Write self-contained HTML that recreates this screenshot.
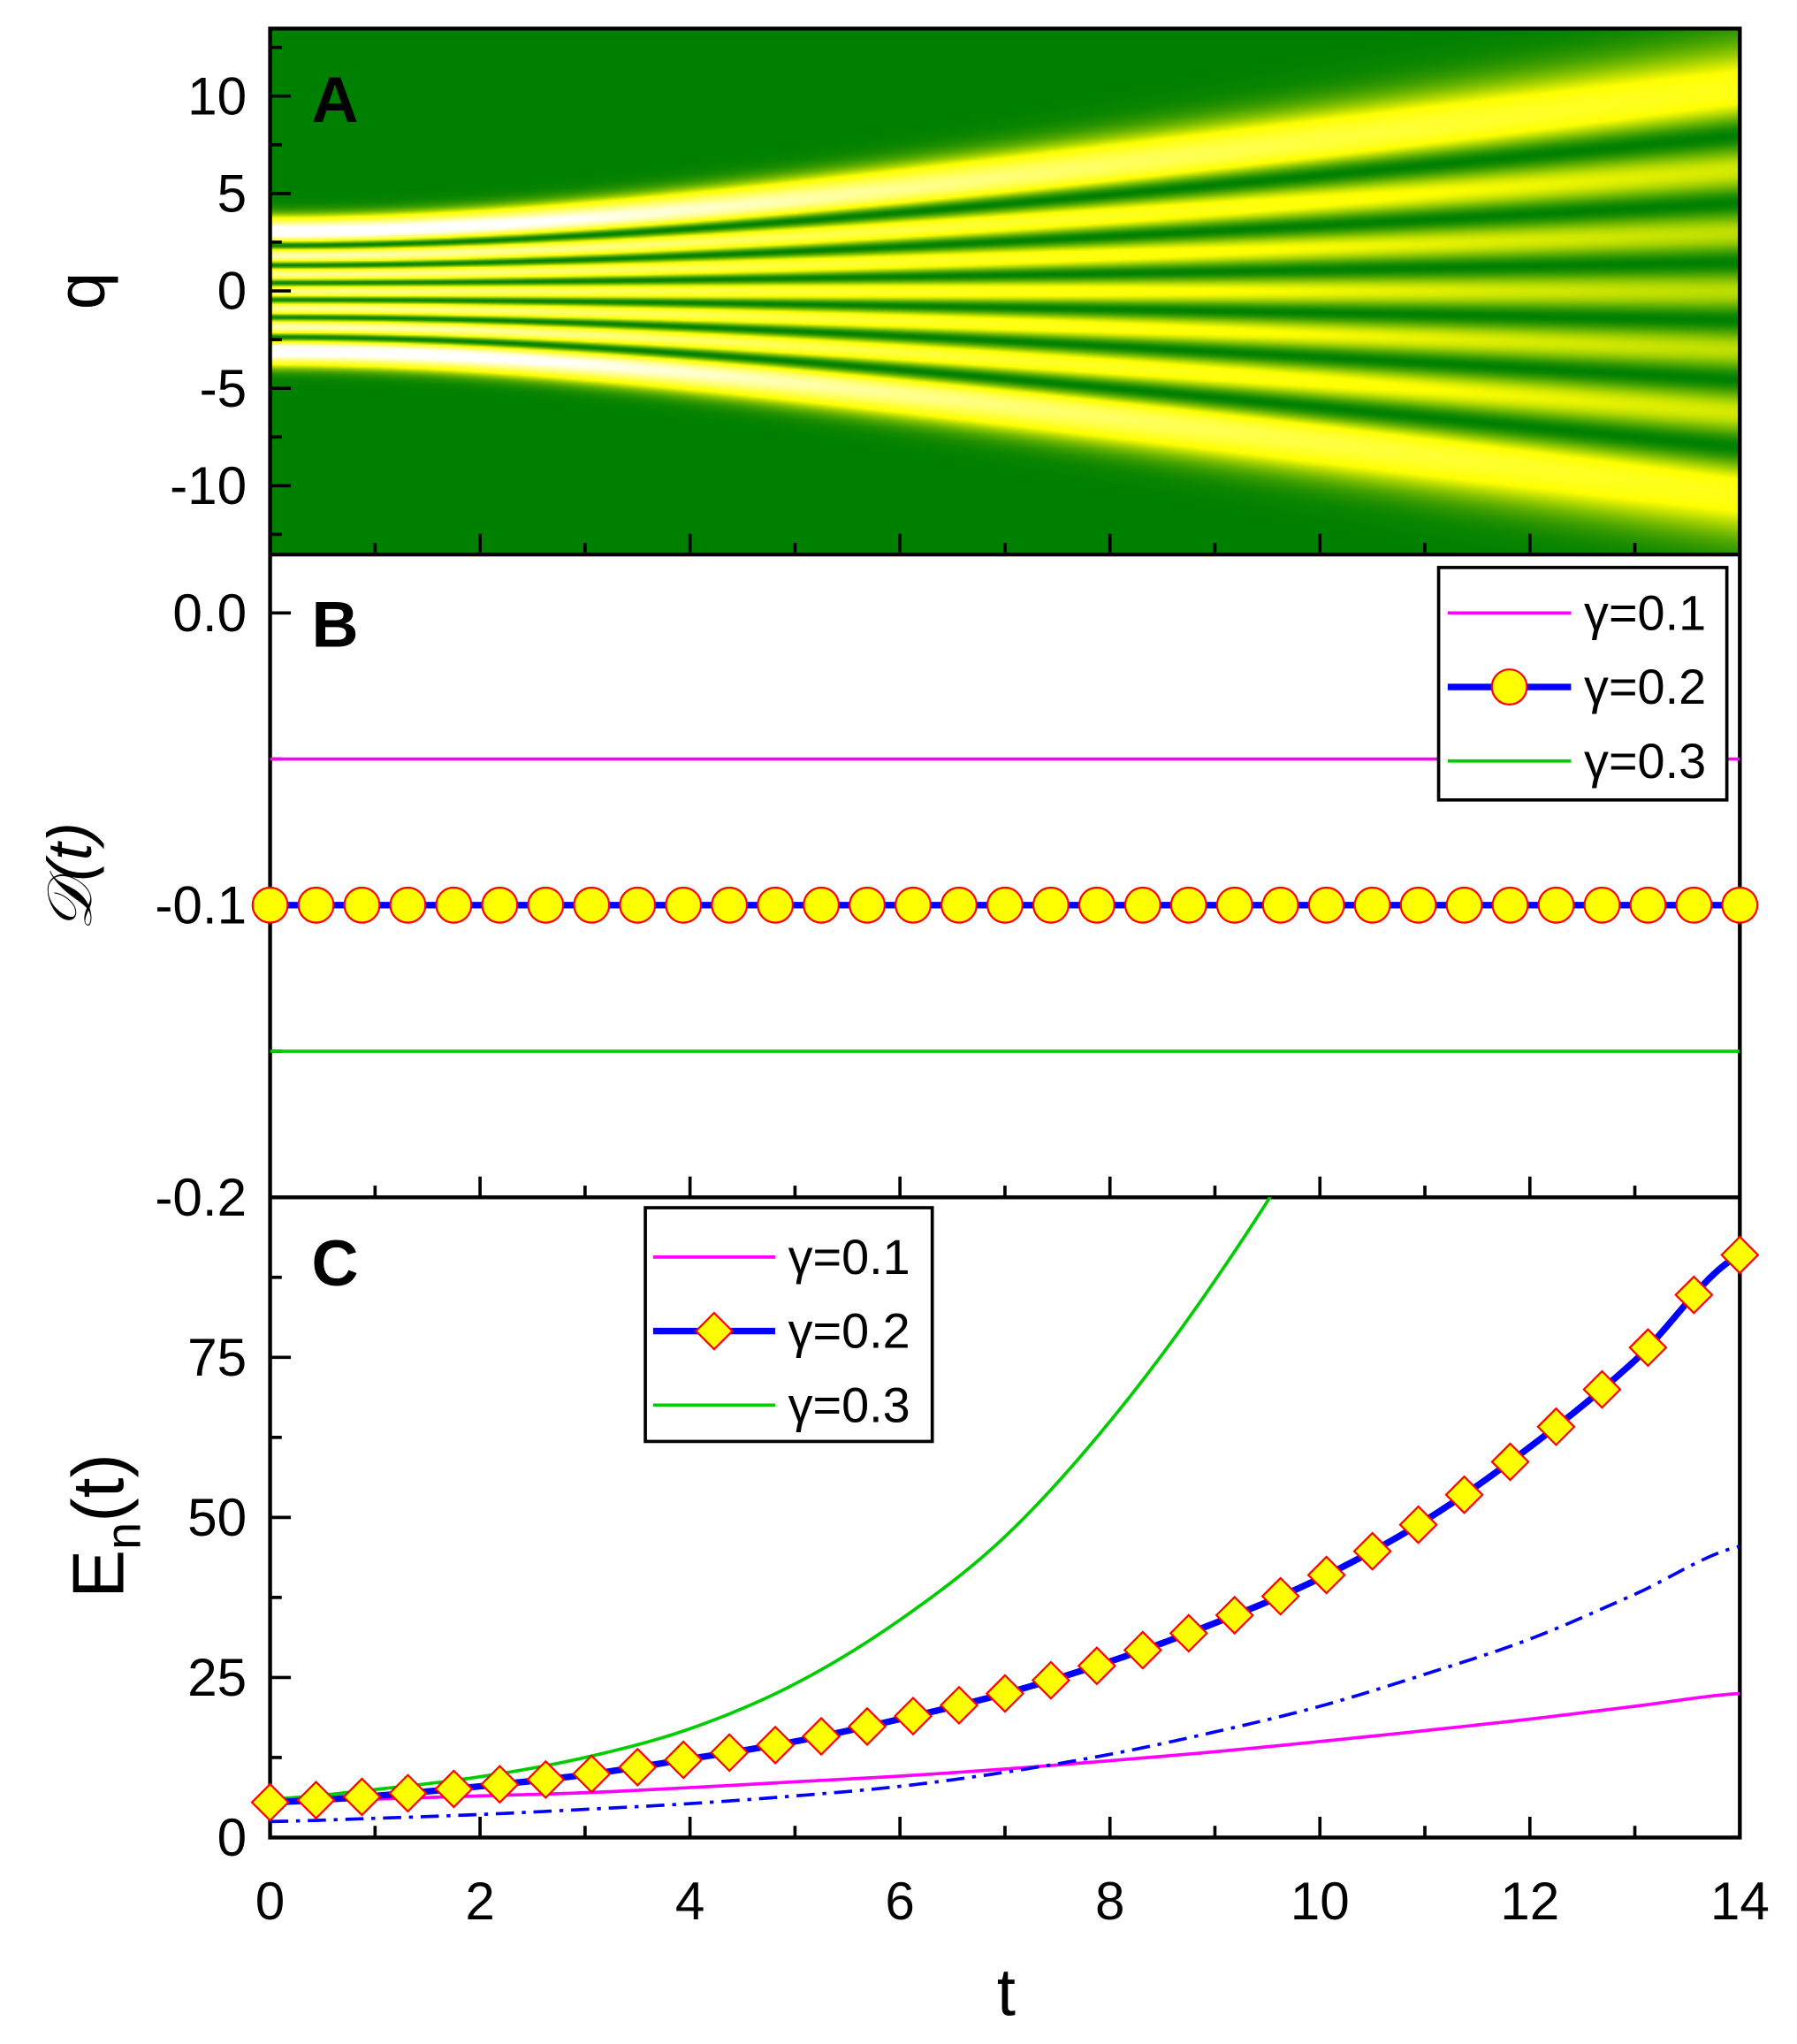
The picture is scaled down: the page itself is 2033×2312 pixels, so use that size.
<!DOCTYPE html>
<html><head><meta charset="utf-8"><style>
html,body{margin:0;padding:0;background:#fff;}
#wrap{position:relative;width:2033px;height:2312px;overflow:hidden;}
#heat{position:absolute;left:305.6px;top:32.3px;width:1663px;height:595px;}
svg{position:absolute;left:0;top:0;}
text{font-family:"Liberation Sans",sans-serif;}
</style></head><body>
<div id="wrap">
<canvas id="heat" width="832" height="298"></canvas>
<svg id="fig" width="2033" height="2312" viewBox="0 0 1384 1574"></svg>
</div>
<script>
// ---- data ----
const tGrid = [0,1,2,3,4,5,6,7,8,9,10,11,12,13,14];
const energyG02 = [5.5,6.5,8,9.8,12.3,15,18.5,22.5,27.5,33.5,40.5,49.5,61,74.5,91];
const energyG01 = [5.5,6,6.5,7,7.8,8.7,9.6,10.7,12,13.4,15,16.7,18.5,20.5,22.5];
const energyG03 = [6,7.5,9.5,12.5,17,24,34,47,65,87,113,145,185,235,300];
const energyRef = [2.5,3,3.6,4.4,5.3,6.5,8,10.2,13,16.5,20.5,25.5,31,38,45.5];
const dissG01 = -0.05, dissG02 = -0.1, dissG03 = -0.15;
const xTicks = [0,2,4,6,8,10,12,14];
const qTicks = [10,5,0,-5,-10];
const dTicks = [0.0,-0.1,-0.2];
const dTickLabels = ["0.0","-0.1","-0.2"];
const eTicks = [0,25,50,75];
const markerCount = 33;
const hermiteOrder = 6;
const widthGrowth = 4.3;

// ---- axes ----
const X0=208,X1=1340;
const xs=t=>X0+(X1-X0)*t/14;
const yA=q=>224-15*q;
const yB=d=>472-2250*d;
const yC=e=>1415-4.93*e;
const NS='http://www.w3.org/2000/svg';
const svg=document.getElementById('fig');
function el(tag,attrs,parent){const e=document.createElementNS(NS,tag);for(const k in attrs)e.setAttribute(k,attrs[k]);(parent||svg).appendChild(e);return e;}
function txt(s,x,y,size,anchor,parent,extra){const e=el('text',Object.assign({x:x,y:y,'font-size':size,'text-anchor':anchor||'middle'},extra||{}),parent);e.textContent=s;return e;}

// ---- heatmap ----
(function(){
 const c=document.getElementById('heat'),ctx=c.getContext('2d');
 const W=c.width,H=c.height,img=ctx.createImageData(W,H);
 function herm(n,x){let h0=1,h1=2*x;if(n==0)return h0;for(let k=1;k<n;k++){const h2=2*x*h1-2*k*h0;h0=h1;h1=h2;}return h1;}
 let fact=1;for(let k=2;k<=hermiteOrder;k++)fact*=k;
 const norm=1/(Math.pow(2,hermiteOrder)*fact*Math.sqrt(Math.PI));
 let mx=0;for(let x=-4;x<=4;x+=0.01){const v=norm*Math.pow(herm(hermiteOrder,x),2)*Math.exp(-x*x);if(v>mx)mx=v;}
 for(let i=0;i<W;i++){const t=14*(i+0.5)/W;const w=Math.sqrt(1+Math.pow(t/widthGrowth,2));
  for(let j=0;j<H;j++){const q=13.5-27*(j+0.5)/H;const x=q/w;
   let v=norm*Math.pow(herm(hermiteOrder,x),2)*Math.exp(-x*x)/w/mx;
   let r,g,b;
   if(v<0.24){const s=Math.pow(v/0.24,0.9);r=255*s;g=128+127*s;b=0;}
   else{const s=Math.min(1,(v-0.24)/0.6);r=255;g=255;b=255*s;}
   const p=(j*W+i)*4;img.data[p]=r;img.data[p+1]=g;img.data[p+2]=b;img.data[p+3]=255;}}
 ctx.putImageData(img,0,0);
})();

// ---- frames ----
const frame=el('g',{});
el('rect',{x:X0,y:22,width:X1-X0,height:1393,fill:'none',stroke:'#000','stroke-width':3},frame);
el('line',{x1:X0,x2:X1,y1:427,y2:427,stroke:'#000','stroke-width':3},frame);
el('line',{x1:X0,x2:X1,y1:922,y2:922,stroke:'#000','stroke-width':3},frame);

// x ticks on each panel bottom
const xt=el('g',{});
[427,922,1415].forEach(yb=>{for(let t=0;t<=14;t++){const maj=t%2==0;el('line',{x1:xs(t),x2:xs(t),y1:yb,y2:yb-(maj?16:9),stroke:'#000','stroke-width':2.5},xt);}});
xTicks.forEach(t=>txt(String(t),xs(t),1478,41,'middle',xt));
txt('t',775,1552,52,'middle',null,{});

// panel A y ticks
const ya=el('g',{});
for(let q=-12.5;q<=12.5;q+=2.5){const maj=q%5==0;el('line',{x1:X0,x2:X0+(maj?16:9),y1:yA(q),y2:yA(q),stroke:'#000','stroke-width':2.5},ya);}
qTicks.forEach(q=>txt(String(q),190,yA(q)+14,41,'end',ya));
txt('q',80,224,52,'middle',null,{transform:'rotate(-90 80 224)',});
txt('A',240,94,50,'start',null,{'font-weight':'bold',});

// panel B
const yb=el('g',{});
for(let d=0;d>=-0.2;d-=0.05){const maj=Math.abs(Math.round(d*100))%10==0;el('line',{x1:X0,x2:X0+(maj?16:9),y1:yB(d),y2:yB(d),stroke:'#000','stroke-width':2.5},yb);}
dTicks.forEach((d,i)=>txt(dTickLabels[i],190,yB(d)+14,41,'end',yb));
txt('𝒟(t)',70,675,48,'middle',null,{transform:'rotate(-90 70 675)','font-family':'"DejaVu Serif",serif','font-style':'italic',});
txt('B',240,498,50,'start',null,{'font-weight':'bold',});
const sb=el('g',{});
let e1=el('line',{x1:X0,x2:X1,y1:yB(dissG01),y2:yB(dissG01),stroke:'#ff00ff','stroke-width':2.5},sb);
let e3=el('line',{x1:X0,x2:X1,y1:yB(dissG03),y2:yB(dissG03),stroke:'#00cc00','stroke-width':2.5},sb);
let e2=el('line',{x1:X0,x2:X1,y1:yB(dissG02),y2:yB(dissG02),stroke:'#0000ff','stroke-width':5},sb);
for(let k=0;k<markerCount;k++){const t=14*k/(markerCount-1);const m=el('circle',{cx:xs(t),cy:yB(dissG02),r:13.5,fill:'#ffff00',stroke:'#ff0000','stroke-width':1.5},sb);
}

// panel C
const yc=el('g',{});
for(let e=0;e<100;e+=12.5){const maj=e%25==0;el('line',{x1:X0,x2:X0+(maj?16:9),y1:yC(e),y2:yC(e),stroke:'#000','stroke-width':2.5},yc);}
eTicks.forEach(e=>txt(String(e),190,yC(e)+14,41,'end',yc));
const yt=txt('E',95,1175,56,'middle',null,{transform:'rotate(-90 95 1175)',});
yt.textContent='';const ts1=el('tspan',{},yt);ts1.textContent='E';const ts2=el('tspan',{'font-size':38,dy:13},yt);ts2.textContent='n';const ts3=el('tspan',{dy:-13},yt);ts3.textContent='(t)';
txt('C',240,990,50,'start',null,{'font-weight':'bold',});
function interp(arr,t){const i=Math.min(13,Math.floor(t));const f=t-i;const p0=arr[Math.max(0,i-1)],p1=arr[i],p2=arr[i+1],p3=arr[Math.min(14,i+2)];
 return 0.5*((2*p1)+(-p0+p2)*f+(2*p0-5*p1+4*p2-p3)*f*f+(-p0+3*p1-3*p2+p3)*f*f*f);}
function curve(arr){let d='';for(let i=0;i<=280;i++){const t=14*i/280;d+=(i?'L':'M')+xs(t).toFixed(2)+','+yC(interp(arr,t)).toFixed(2);}return d;}
el('clipPath',{id:'clipC'}).appendChild(document.createElementNS(NS,'rect'));
const cr=document.querySelector('#clipC rect');cr.setAttribute('x',X0);cr.setAttribute('y',922);cr.setAttribute('width',X1-X0);cr.setAttribute('height',493);
const sc=el('g',{'clip-path':'url(#clipC)',});
let c1=el('path',{d:curve(energyG01),fill:'none',stroke:'#ff00ff','stroke-width':2.5},sc);
let c3=el('path',{d:curve(energyG03),fill:'none',stroke:'#00cc00','stroke-width':2.5},sc);
let c4=el('path',{d:curve(energyRef),fill:'none',stroke:'#0000ff','stroke-width':2.5,'stroke-dasharray':'14,6,3,6'},sc);
let c2=el('path',{d:curve(energyG02),fill:'none',stroke:'#0000ff','stroke-width':5},sc);
const mk=el('g',{});
for(let k=0;k<markerCount;k++){const t=14*k/(markerCount-1);const x=xs(t),y=yC(interp(energyG02,t)),s=14;
 const m=el('polygon',{points:`${x},${y-s} ${x+s},${y} ${x},${y+s} ${x-s},${y}`,fill:'#ffff00',stroke:'#ff0000','stroke-width':1.5},mk);
 }

// legends
function legend(x,y,w,h,lx0,lx1,tx,ys,name,shape){
 const g=el('g',{});
 el('rect',{x:x,y:y,width:w,height:h,fill:'#fff',stroke:'#000','stroke-width':2.5},g);
 const cols=['#ff00ff','#0000ff','#00cc00'],labs=['γ=0.1','γ=0.2','γ=0.3'];
 for(let i=0;i<3;i++){const ge=el('g',{},g);
  el('line',{x1:lx0,x2:lx1,y1:ys[i],y2:ys[i],stroke:cols[i],'stroke-width':i==1?5:2.5},ge);
  if(i==1){const cx=(lx0+lx1)/2;if(shape=='c')el('circle',{cx:cx,cy:ys[i],r:13.5,fill:'#ffff00',stroke:'#ff0000','stroke-width':1.5},ge);
   else el('polygon',{points:`${cx},${ys[i]-14} ${cx+14},${ys[i]} ${cx},${ys[i]+14} ${cx-14},${ys[i]}`,fill:'#ffff00',stroke:'#ff0000','stroke-width':1.5},ge);}
  txt(labs[i],tx,ys[i]+13,38,'start',ge);}
}
legend(1108,437,222,179,1115,1210,1220,[472,529,586],'legend-b','c');
legend(497,930,221,180,503,597,607,[968,1025,1082],'legend-c','d');
</script>
</body></html>
